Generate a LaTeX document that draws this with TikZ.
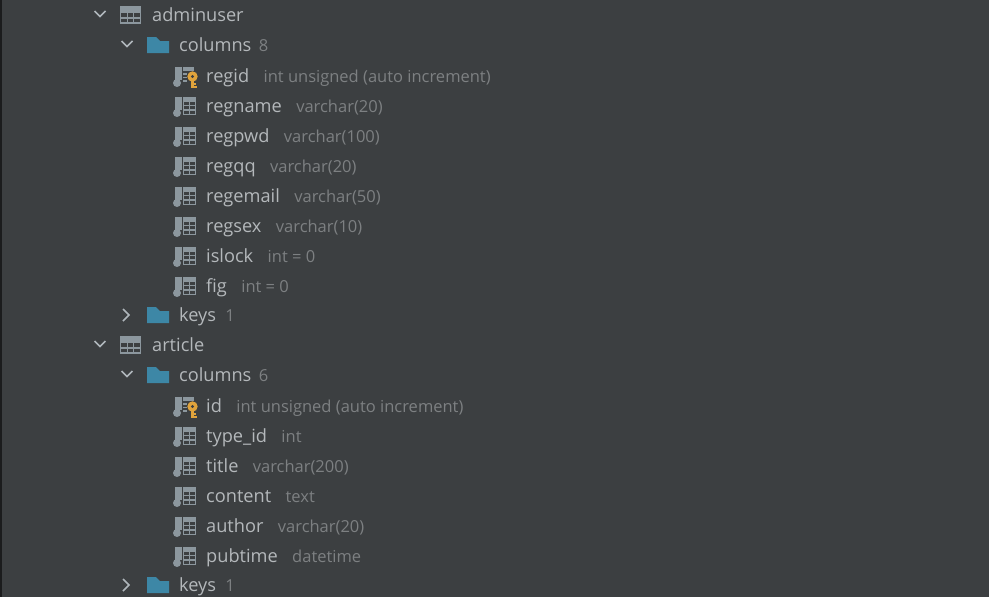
\documentclass[tikz,border=0pt]{standalone}
\usepackage{fontspec}
\setmainfont{Open Sans}
\usepackage{xcolor}
\usetikzlibrary{positioning}
\definecolor{bgdark}{HTML}{3C3F41}
\definecolor{txt}{HTML}{B4B8BB}
\definecolor{muted}{HTML}{7D8082}
\definecolor{iconc}{HTML}{8C979E}
\definecolor{folderc}{HTML}{3D87A6}
\definecolor{keyc}{HTML}{E0A33C}
\tikzstyle{item}=[draw=none, inner sep=0, anchor=base west, text=txt, font=\fontsize{18.2}{20}\selectfont]
\tikzstyle{hint}=[draw=none, inner sep=0, anchor=base west, text=muted, font=\fontsize{16.5}{18}\selectfont]
\tikzstyle{chev}=[draw=iconc!70!white, line width=1.5pt]
\tikzset{
  tableicon/.pic={
    \fill[iconc] (-10.5,-8) rectangle (10.5,-3.5);
    \draw[iconc, line width=1.3pt] (-10,-8) rectangle (10,8);
    \foreach \a in {-3.5,2.5} \draw[iconc, line width=1.2pt] (-10,\a+.5) -- (10,\a+.5);
    \foreach \a in {-3.3,3.3} \draw[iconc, line width=1.2pt] (\a,-4) -- (\a,8);
  },
  foldericon/.pic={
    \fill[folderc] (-11,-8) -- (-2,-8) -- (2,-4) -- (11,-4) -- (11,8) -- (-11,8) -- cycle;
  },
  columnbase/.pic={
    \fill[iconc] (-10.5,-9) rectangle (-3.5,4);
    \fill[iconc] (-8,7) circle (4);
  },
  columnicon/.pic={
    \pic {columnbase};
    \fill[iconc] (-2,-9) rectangle (11,-5);
    \draw[iconc, line width=1.1pt] (-1.5,-5) rectangle (10.5,8.5);
    \foreach \a in {-.5,4} \draw[iconc, line width=1.1pt] (-1.5,\a) -- (10.5,\a);
    \draw[iconc, line width=1.1pt] (4.5,-5) -- (4.5,8.5);
  },
  keyicon/.pic={
    \pic {columnbase};
    \fill[iconc] (-2,-9) rectangle (9,-5);
    \foreach \a in {-2,1.5,5} \draw[iconc, line width=1.1pt] (-2,\a) -- (2,\a);
    \fill[keyc] (7.5,.5) circle (5.2);
    \fill[bgdark] (7.5,.5) circle (1.7);
    \draw[keyc, line width=2.4pt] (7.5,5) -- (7.5,12) (7.5,11) -- (11.5,11) (7.5,8) -- (11,8);
  }
}
\begin{document}
\begin{tikzpicture}[x=1pt, y=-1pt]
\useasboundingbox (0,0) rectangle (989,597);
\fill[bgdark] (0,0) rectangle (989,597);
\fill[black!55!bgdark] (0,0) rectangle (1.5,597);
% tables
\foreach \n/\t/\y in {adminuser/adminuser/15, article/article/345} {
  \pic at (130.5,\y) {tableicon};
  \node[item] (\n) at (152,\y+6) {\t};
  \draw[chev] (94.5,\y-4) -- (100,\y+1.5) -- (105.5,\y-4);
}
% folders
\foreach \n/\t/\c/\y in {colsa/columns/8/45, colsb/columns/6/375} {
  \pic at (158,\y) {foldericon};
  \node[item] (\n) at (179,\y+6) {\t};
  \node[hint, right=7pt of \n.base east, anchor=base west] (\n c) {\c};
  \draw[chev] (121.5,\y-4) -- (127,\y+1.5) -- (132.5,\y-4);
}
\foreach \n/\t/\c/\y in {keysa/keys/1/315, keysb/keys/1/585} {
  \pic at (158,\y) {foldericon};
  \node[item] (\n) at (179,\y+6) {\t};
  \node[hint, right=9pt of \n.base east, anchor=base west] (\n c) {\c};
  \draw[chev] (123,\y-6) -- (129,\y) -- (123,\y+6);
}
% key columns
\foreach \n/\d/\y in {regid/int unsigned (auto increment)/76, id/int unsigned (auto increment)/406} {
  \pic at (185,\y) {keyicon};
  \node[item] (\n) at (206,\y+6) {\n};
  \node[hint, right=14pt of \n.base east, anchor=base west] (\n t) {\d};
}
% plain columns
\foreach \n/\t/\d/\y in {regname/regname/varchar(20)/106, regpwd/regpwd/varchar(100)/136,
    regqq/regqq/varchar(20)/166, regemail/regemail/varchar(50)/196, regsex/regsex/varchar(10)/226,
    islock/islock/int = 0/256, fig/fig/int = 0/286, typeid/type\_id/int/436, title/title/varchar(200)/466,
    content/content/text/496, author/author/varchar(20)/526, pubtime/pubtime/datetime/556} {
  \pic at (185,\y) {columnicon};
  \node[item] (\n) at (206,\y+6) {\t};
  \node[hint, right=14pt of \n.base east, anchor=base west] (\n t) {\d};
}
\end{tikzpicture}
\end{document}
